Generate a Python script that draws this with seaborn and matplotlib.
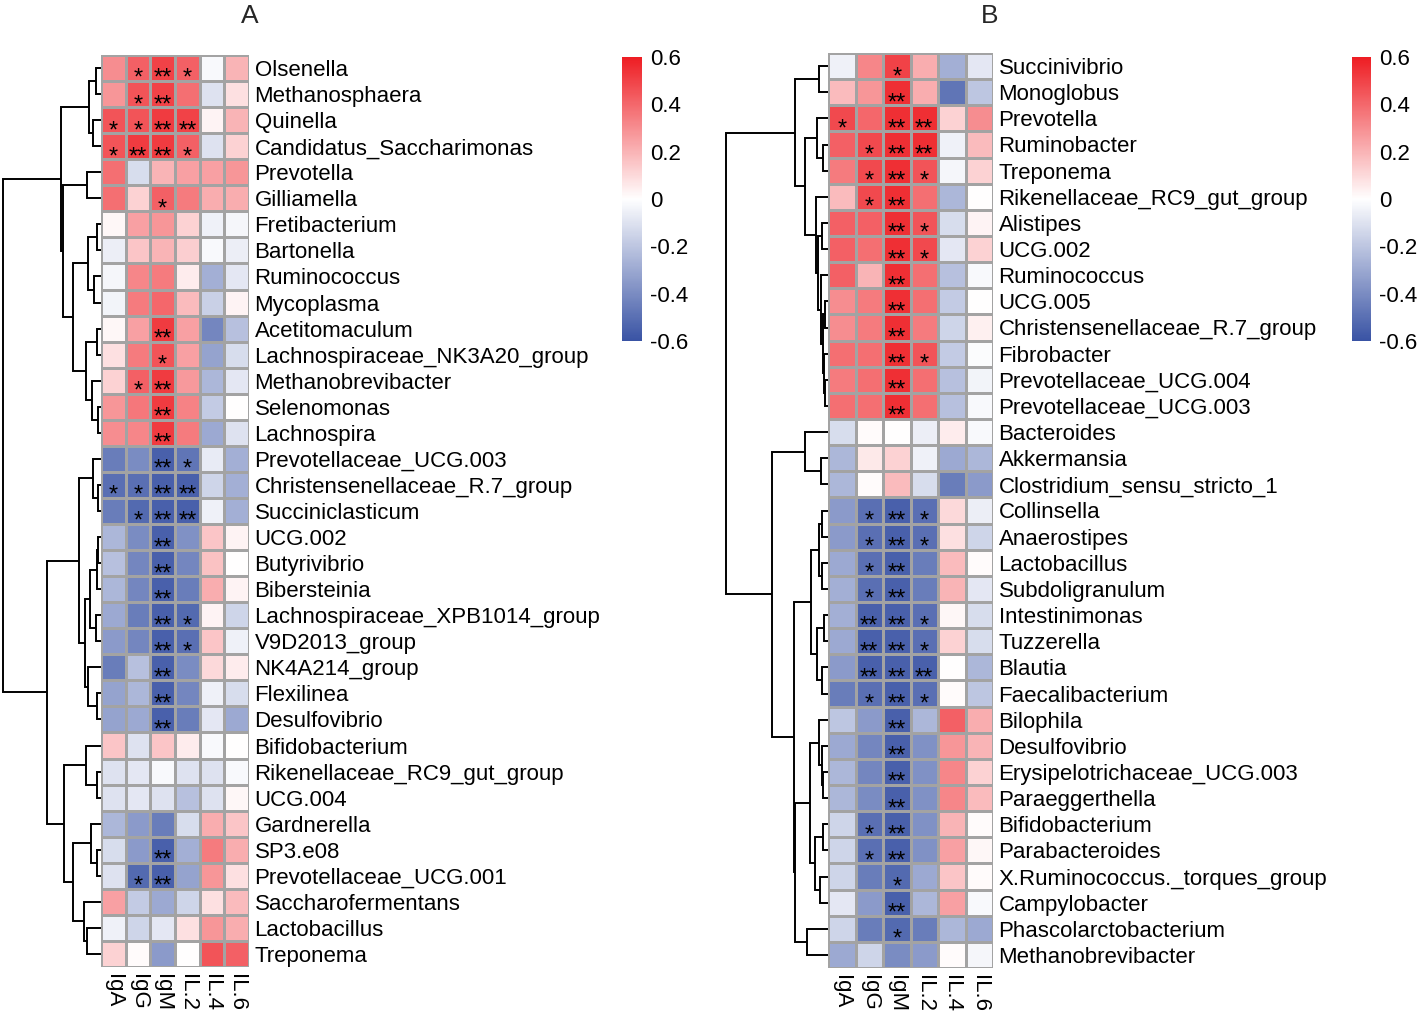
import numpy as np
import pandas as pd
import matplotlib
matplotlib.use("Agg")
import matplotlib.pyplot as plt
import seaborn as sns
from matplotlib.colors import LinearSegmentedColormap

# ---------------- data ----------------
cols = ["IgA", "IgG", "IgM", "IL.2", "IL.4", "IL.6"]

a_taxa = ["Olsenella", "Methanosphaera", "Quinella", "Candidatus_Saccharimonas", "Prevotella",
          "Gilliamella", "Fretibacterium", "Bartonella", "Ruminococcus", "Mycoplasma",
          "Acetitomaculum", "Lachnospiraceae_NK3A20_group", "Methanobrevibacter", "Selenomonas",
          "Lachnospira", "Prevotellaceae_UCG.003", "Christensenellaceae_R.7_group", "Succiniclasticum",
          "UCG.002", "Butyrivibrio", "Bibersteinia", "Lachnospiraceae_XPB1014_group", "V9D2013_group",
          "NK4A214_group", "Flexilinea", "Desulfovibrio", "Bifidobacterium",
          "Rikenellaceae_RC9_gut_group", "UCG.004", "Gardnerella", "SP3.e08",
          "Prevotellaceae_UCG.001", "Saccharofermentans", "Lactobacillus", "Treponema"]
a_IgA = [0.30, 0.28, 0.45, 0.45, 0.38, 0.38, 0.02, -0.06, -0.03, -0.04, 0.02, 0.08, 0.12, 0.28, 0.30,
         -0.45, -0.50, -0.45, -0.25, -0.22, -0.25, -0.30, -0.35, -0.45, -0.32, -0.32, 0.15, -0.10,
         -0.10, -0.25, -0.12, -0.10, 0.25, -0.05, 0.12]
a_IgG = [0.42, 0.45, 0.45, 0.52, -0.12, 0.12, 0.25, 0.15, 0.32, 0.35, 0.25, 0.35, 0.42, 0.36, 0.32,
         -0.40, -0.50, -0.52, -0.40, -0.42, -0.42, -0.45, -0.42, -0.22, -0.25, -0.30, -0.10, -0.08,
         -0.08, -0.35, -0.35, -0.52, -0.18, -0.15, 0.01]
a_IgM = [0.50, 0.50, 0.52, 0.52, 0.20, 0.42, 0.28, 0.20, 0.35, 0.40, 0.52, 0.45, 0.52, 0.52, 0.52,
         -0.55, -0.55, -0.55, -0.55, -0.55, -0.55, -0.55, -0.55, -0.55, -0.55, -0.55, 0.15, -0.02,
         -0.10, -0.45, -0.55, -0.55, -0.30, -0.08, -0.35]
a_IL2 = [0.42, 0.38, 0.50, 0.42, 0.25, 0.35, 0.12, 0.13, 0.05, 0.18, 0.25, 0.25, 0.27, 0.33, 0.35,
         -0.48, -0.55, -0.55, -0.38, -0.42, -0.45, -0.52, -0.50, -0.40, -0.42, -0.45, 0.05, -0.10,
         -0.22, -0.12, -0.28, -0.32, -0.15, 0.08, 0.00]
a_IL4 = [-0.02, -0.10, 0.03, -0.10, 0.25, 0.22, -0.05, -0.02, -0.28, -0.16, -0.42, -0.32, -0.25,
         -0.18, -0.30, -0.07, -0.15, -0.05, 0.15, 0.16, 0.22, 0.03, 0.15, 0.10, -0.05, -0.08, -0.02,
         -0.10, -0.10, 0.22, 0.35, 0.28, 0.08, 0.28, 0.45]
a_IL6 = [0.20, 0.08, 0.20, 0.12, 0.28, 0.22, -0.03, -0.06, -0.08, 0.03, -0.22, -0.12, -0.08, 0.00,
         -0.10, -0.28, -0.28, -0.28, 0.03, 0.00, 0.03, -0.15, -0.05, 0.05, -0.12, -0.30, 0.00, -0.02,
         0.02, 0.15, 0.22, 0.08, 0.18, 0.22, 0.42]
# number of significance stars per cell (IgA..IL.6)
a_sig = ["012100", "012000", "112200", "122100", "000000", "001000", "000000", "000000", "000000",
         "000000", "002000", "001000", "012000", "002000", "002000", "002100", "112200", "012200",
         "002000", "002000", "002000", "002100", "002100", "002000", "002000", "002000", "000000",
         "000000", "000000", "000000", "002000", "012000", "000000", "000000", "000000"]
# row dendrogram merges: (child, child, height); leaves 0..34, merged clusters 35..
a_links = [(0, 1, 5), (2, 3, 8), (35, 36, 12), (4, 5, 14), (6, 7, 4), (8, 9, 7), (39, 40, 13),
           (10, 11, 4), (13, 14, 3), (12, 43, 9), (42, 44, 15), (41, 45, 28), (38, 46, 38),
           (37, 47, 40), (16, 17, 3), (15, 49, 8), (18, 19, 3), (51, 20, 4), (21, 22, 5),
           (52, 53, 11), (24, 25, 4), (23, 55, 13), (54, 56, 16), (50, 57, 22), (27, 28, 4),
           (26, 59, 15), (30, 31, 4), (29, 61, 10), (33, 34, 14), (32, 63, 17), (62, 64, 28),
           (60, 65, 37), (58, 66, 54), (48, 67, 98)]

b_taxa = ["Succinivibrio", "Monoglobus", "Prevotella", "Ruminobacter", "Treponema",
          "Rikenellaceae_RC9_gut_group", "Alistipes", "UCG.002", "Ruminococcus", "UCG.005",
          "Christensenellaceae_R.7_group", "Fibrobacter", "Prevotellaceae_UCG.004",
          "Prevotellaceae_UCG.003", "Bacteroides", "Akkermansia", "Clostridium_sensu_stricto_1",
          "Collinsella", "Anaerostipes", "Lactobacillus", "Subdoligranulum", "Intestinimonas",
          "Tuzzerella", "Blautia", "Faecalibacterium", "Bilophila", "Desulfovibrio",
          "Erysipelotrichaceae_UCG.003", "Paraeggerthella", "Bifidobacterium", "Parabacteroides",
          "X.Ruminococcus._torques_group", "Campylobacter", "Phascolarctobacterium",
          "Methanobrevibacter"]
b_IgA = [-0.05, 0.18, 0.48, 0.42, 0.35, 0.18, 0.42, 0.42, 0.42, 0.30, 0.30, 0.38, 0.35, 0.38, -0.12,
         -0.25, -0.25, -0.35, -0.35, -0.30, -0.28, -0.28, -0.30, -0.35, -0.45, -0.20, -0.30, -0.25,
         -0.25, -0.15, -0.15, -0.15, -0.08, -0.15, -0.30]
b_IgG = [0.32, 0.28, 0.40, 0.48, 0.48, 0.48, 0.42, 0.38, 0.20, 0.35, 0.35, 0.38, 0.38, 0.38, 0.01,
         0.06, 0.01, -0.50, -0.50, -0.50, -0.50, -0.55, -0.55, -0.55, -0.50, -0.35, -0.42, -0.42,
         -0.40, -0.50, -0.50, -0.45, -0.35, -0.45, -0.15]
b_IgM = [0.50, 0.55, 0.55, 0.55, 0.55, 0.55, 0.55, 0.55, 0.55, 0.55, 0.55, 0.55, 0.55, 0.55, 0.00,
         0.12, 0.18, -0.55, -0.55, -0.55, -0.55, -0.55, -0.55, -0.55, -0.55, -0.55, -0.55, -0.55,
         -0.55, -0.55, -0.55, -0.52, -0.55, -0.52, -0.40]
b_IL2 = [0.22, 0.22, 0.55, 0.55, 0.45, 0.38, 0.45, 0.48, 0.38, 0.38, 0.35, 0.45, 0.38, 0.38, -0.06,
         -0.05, -0.12, -0.50, -0.50, -0.45, -0.45, -0.50, -0.50, -0.55, -0.50, -0.25, -0.38, -0.38,
         -0.38, -0.38, -0.38, -0.30, -0.25, -0.45, -0.35]
b_IL4 = [-0.28, -0.48, 0.12, -0.05, -0.03, -0.25, -0.12, -0.08, -0.22, -0.18, -0.15, -0.18, -0.22,
         -0.22, 0.05, -0.30, -0.45, 0.10, 0.08, 0.18, 0.20, 0.02, 0.12, 0.00, 0.01, 0.42, 0.28, 0.32,
         0.32, 0.20, 0.25, 0.15, 0.25, -0.25, 0.01]
b_IL6 = [-0.08, -0.20, 0.30, 0.18, 0.12, 0.00, 0.03, 0.12, -0.02, 0.00, 0.04, -0.01, -0.04, -0.02,
         -0.02, -0.25, -0.35, -0.06, -0.15, 0.01, -0.08, -0.12, -0.12, -0.25, -0.20, 0.22, 0.20, 0.12,
         0.18, 0.01, 0.02, 0.01, -0.02, -0.30, -0.03]
b_sig = ["001000", "002000", "102200", "012200", "012100", "012000", "002100", "002100", "002000",
         "002000", "002000", "002100", "002000", "002000", "000000", "000000", "000000", "012100",
         "012100", "012000", "012000", "022100", "022100", "022200", "012100", "002000", "002000",
         "002000", "002000", "012000", "012000", "001000", "002000", "001000", "000000"]
b_links = [(0, 1, 9), (3, 4, 5), (2, 36, 11), (6, 7, 6), (9, 10, 3), (12, 13, 3), (11, 40, 4.5),
           (39, 41, 5.5), (8, 42, 7), (38, 43, 10.5), (5, 44, 12.5), (37, 45, 22.7), (35, 46, 33.3),
           (15, 16, 6.7), (14, 48, 22.7), (17, 18, 6), (19, 20, 6), (50, 51, 9.3), (21, 22, 4.3),
           (23, 24, 6), (53, 54, 11), (52, 55, 16.7), (27, 28, 5), (26, 57, 6), (25, 58, 9.3),
           (29, 30, 5), (31, 32, 8.3), (60, 61, 12.7), (59, 62, 17.7), (33, 34, 21), (63, 64, 33.3),
           (56, 65, 34), (49, 66, 56), (47, 67, 102)]

cbar_ticks = [-0.6, -0.4, -0.2, 0, 0.2, 0.4, 0.6]
cbar_labels = ["-0.6", "-0.4", "-0.2", "0", "0.2", "0.4", "0.6"]

# ---------------- style / layout ----------------
W, H = 1417, 1016
sns.set_theme(style="white")
plt.rcParams['font.family'] = ['Liberation Sans', 'DejaVu Sans']
plt.rcParams['axes.unicode_minus'] = False

fig = plt.figure(figsize=(W / 100, H / 100), dpi=100)
fig.patch.set_facecolor("white")

FS = 16


def box(l, t, r, b):
    return [l / W, 1 - b / H, (r - l) / W, (b - t) / H]


cmap = LinearSegmentedColormap.from_list("ph", ["#3953A4", "#FFFFFF", "#EE1D23"], N=256)


def draw_dendro(ax, links, n, xmax):
    pos = {i: i + 0.5 for i in range(n)}
    hgt = {i: 0.0 for i in range(n)}
    for k, (a, b, h) in enumerate(links):
        ya, yb = pos[a], pos[b]
        ax.plot([hgt[a], h, h, hgt[b]], [ya, ya, yb, yb], color="black", lw=1.4,
                solid_capstyle="butt", solid_joinstyle="miter", clip_on=False)
        pos[n + k] = (ya + yb) / 2
        hgt[n + k] = h
    ax.set_ylim(n, 0)
    ax.set_xlim(xmax, 0)
    ax.axis("off")


def panel(taxa, values, sig, links, hm_box, den_box, den_xmax, cb_box, title, title_xy):
    df = pd.DataFrame(dict(zip(cols, values)), index=taxa)
    annot = np.array([["*" * int(c) for c in s] for s in sig])
    ax = fig.add_axes(box(*hm_box))
    cax = fig.add_axes(box(*cb_box))
    sns.heatmap(df, ax=ax, cmap=cmap, vmin=-0.6, vmax=0.6, linewidths=1.0, linecolor="#a3a3a3",
                annot=annot, fmt="", annot_kws=dict(color="black", fontsize=17, va="top"),
                cbar=True, cbar_ax=cax, xticklabels=True, yticklabels=True)
    n = len(taxa)
    ax.yaxis.tick_right()
    ax.set_yticks(np.arange(n) + 0.5)
    ax.set_yticklabels(taxa, rotation=0, fontsize=FS, color="black")
    ax.set_xticks(np.arange(len(cols)) + 0.5)
    ax.set_xticklabels(cols, rotation=270, fontsize=FS, color="black")
    ax.tick_params(axis="both", length=0)
    ax.tick_params(axis="y", pad=4)
    ax.tick_params(axis="x", pad=5)
    ax.set_xlabel("")
    ax.set_ylabel("")
    cb = ax.collections[0].colorbar
    cb.outline.set_visible(False)
    cb.set_ticks(cbar_ticks)
    cb.set_ticklabels(cbar_labels)
    cax.tick_params(labelsize=FS, length=0, pad=6, labelcolor="black")
    dax = fig.add_axes(box(*den_box))
    draw_dendro(dax, links, n, den_xmax)
    fig.text(title_xy[0] / W, 1 - title_xy[1] / H, title, fontsize=19, ha="center", va="center")


panel(a_taxa, [a_IgA, a_IgG, a_IgM, a_IL2, a_IL4, a_IL6], a_sig, a_links,
      (101, 55, 249, 967), (1, 55, 101, 967), 100, (622, 57, 642, 341), "A", (250, 16))
panel(b_taxa, [b_IgA, b_IgG, b_IgM, b_IL2, b_IL4, b_IL6], b_sig, b_links,
      (828, 53, 993, 968), (724, 53, 828, 968), 104, (1352, 57, 1371, 341), "B", (990, 16))

fig.savefig("out.png", dpi=100, facecolor="white")
